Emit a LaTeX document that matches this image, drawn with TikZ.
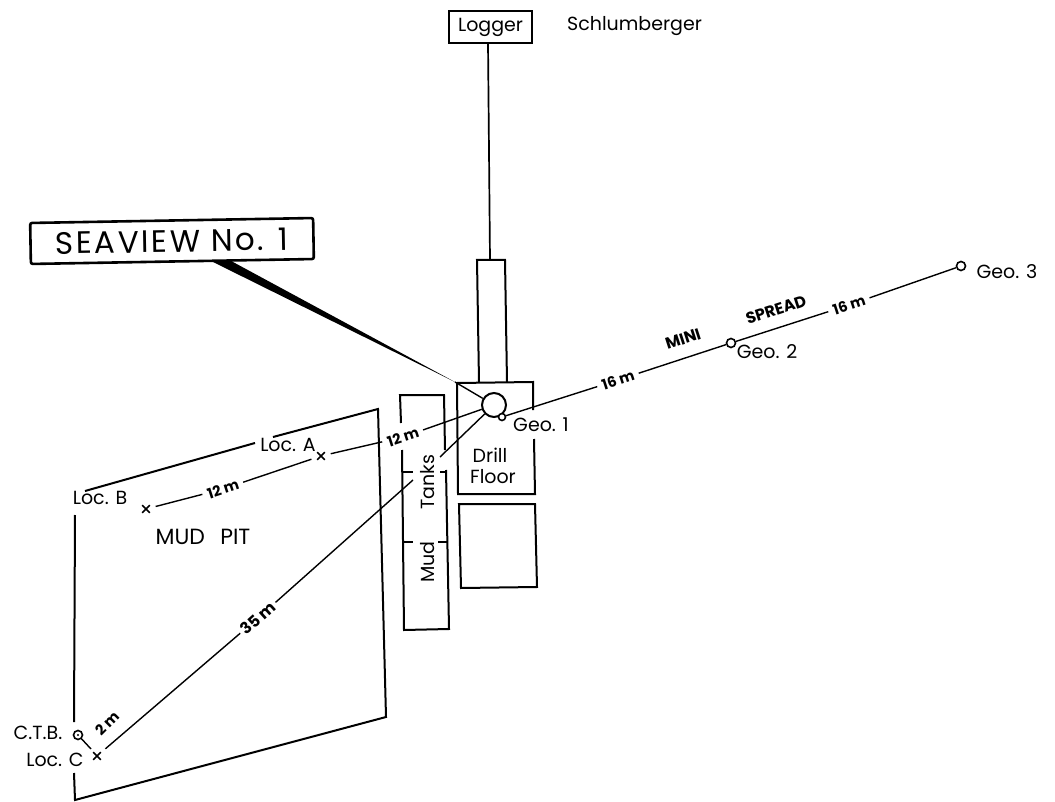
\documentclass[tikz,border=0pt]{standalone}
\usepackage{fontspec}
\setmainfont{Poppins}
\usetikzlibrary{shapes.misc}
\tikzset{
  x=1pt,y=-1pt,
  lbl/.style={font=\fontsize{19}{21}\selectfont,inner sep=0pt,text=black},
  dist/.style={font=\fontsize{14.5}{16}\selectfont\bfseries,inner sep=5pt,text=black},
  heavy/.style={line width=2pt},
  thinl/.style={line width=1.4pt},
  geo/.style={circle,draw,line width=1.6pt,inner sep=0pt,minimum size=9pt,fill=white},
  crossm/.style={cross out,draw,line width=1.7pt,inner sep=0pt,minimum size=6pt},
  tocross/.style={shorten >=6pt},
  fromcross/.style={shorten <=6pt},
}
\begin{document}
\begin{tikzpicture}
\useasboundingbox (0,0) rectangle (1055,802);
% Logger
\node[draw,heavy,minimum width=83pt,minimum height=32pt,inner sep=0pt,font=\fontsize{19}{21}\selectfont] (logger) at (490.5,27) {Logger};
\node[lbl,anchor=west] (sch) at (567,26) {Schlumberger};
% tower
\draw[heavy] (479,382) -- (477,260) -- (505,260) -- (507,382);
\coordinate (towertop) at (490,260);
\coordinate (loggerfoot) at (488,43);
\draw[line width=1.7pt] (loggerfoot) -- (towertop);
% drill floor
\coordinate (dfA) at (533,410);
\coordinate (dfB) at (534,439);
\draw[heavy] (dfA) -- (533,382) -- (457,383) -- (458,494) -- (535,494) -- (dfB);
\draw[heavy] (459,504) -- (535,504) -- (537,587) -- (461,588) -- cycle;
% mud tanks
\draw[heavy] (402,450) -- (404,630) -- (449,629) -- (446,470);
\draw[heavy] (401,423) -- (400,395) -- (444,395) -- (445,450);
\draw[thinl] (402,472) -- (413,472) (440,472) -- (446,472);
\draw[thinl] (404,542) -- (413,542) (438,542) -- (447,542);
\node[lbl,rotate=90] (tanks) at (428,482) {Tanks};
\node[lbl,rotate=90] (mud) at (428,562) {Mud};
\node[lbl] (drill) at (490,455) {Drill};
\node[lbl] (floor) at (493,477) {Floor};
% mud pit
\coordinate (pitA) at (85,491);
\coordinate (pitB) at (255,443);
\coordinate (pitC) at (273,437);
\coordinate (pitD) at (75,515);
\coordinate (pitE) at (74,722);
\coordinate (pitF) at (74,773);
\draw[heavy] (pitA) -- (pitB);
\draw[heavy] (pitC) -- (378,409) -- (386,717) -- (75,800) -- (pitF);
\draw[heavy] (pitD) -- (pitE);
% well
\node[circle,draw,line width=2pt,minimum size=24pt,inner sep=0pt] (well) at (494,405) {};
\node[geo,minimum size=7pt] (geo1) at (502,417) {};
\node[geo] (geo2) at (731,343) {};
\node[geo] (geo3) at (961,266) {};
% crosses
\node[crossm] (locAx) at (321,456) {};
\node[crossm] (locBx) at (146,509) {};
\node[crossm] (locCx) at (97,756) {};
% CTB
\node[geo] (ctb) at (78,735) {};
\fill (ctb.center) circle (1.2pt);
% distance labels
\node[dist,rotate=18] (d12a) at (223,489) {12 m};
\node[dist,rotate=18] (d12b) at (403,437) {12 m};
\node[dist,rotate=18] (d16a) at (618,380) {16 m};
\node[dist,rotate=18] (d16b) at (849,305) {16 m};
\node[dist,rotate=42,font=\fontsize{16}{18}\selectfont\bfseries,inner sep=3pt] (d35) at (258,618) {35 m};
\node[dist,rotate=45,inner sep=0pt] (d2) at (107,723) {2 m};
% connectors
\draw[thinl,fromcross] (locBx) -- (d12a);
\draw[thinl,tocross] (d12a) -- (locAx);
\draw[thinl,fromcross] (locAx) -- (d12b);
\draw[thinl] (d12b) -- (well);
\draw[thinl] (geo1) -- (d16a);
\draw[thinl] (d16a) -- (geo2);
\draw[thinl] (geo2) -- (d16b);
\draw[thinl] (d16b) -- (geo3);
\coordinate (t1) at (440,457);
\coordinate (t2) at (413,480);
\draw[thinl] (well) -- (t1);
\draw[thinl] (t2) -- (d35);
\draw[thinl,tocross] (d35) -- (locCx);
\coordinate (ctbend) at (91,749);
\draw[thinl] (ctb) -- (ctbend);
% seaview
\node[draw,line width=2.6pt,rounded corners=2pt,rotate=1,minimum width=283pt,minimum height=41pt,inner sep=0pt,font=\fontsize{31}{34}\selectfont\addfontfeature{LetterSpace=8}] (sv) at (172,241) {SEAVIEW No. 1};
\coordinate (tip) at (455,382);
\fill (213,262) -- (233,262) -- (tip) -- cycle;
\draw[thinl] (tip) -- (well);
% labels
\node[lbl] (lgeo1) at (541,425) {Geo. 1};
\node[lbl] (lgeo2) at (767,352) {Geo. 2};
\node[lbl] (lgeo3) at (1007,272) {Geo. 3};
\node[lbl,rotate=18,font=\fontsize{16}{18}\selectfont\bfseries] (mini) at (683,339) {MINI};
\node[lbl,rotate=18,font=\fontsize{16}{18}\selectfont\bfseries] (spread) at (776,310) {SPREAD};
\node[lbl] (locA) at (288,445) {Loc. A};
\node[lbl] (locB) at (100,498) {Loc. B};
\node[lbl] (locC) at (55,760) {Loc. C};
\node[lbl] (ctbl) at (38,733) {C.T.B.};
\node[lbl,font=\fontsize{22}{24}\selectfont] (pit) at (203,537) {MUD\hspace{0.7em}PIT};
\end{tikzpicture}
\end{document}
